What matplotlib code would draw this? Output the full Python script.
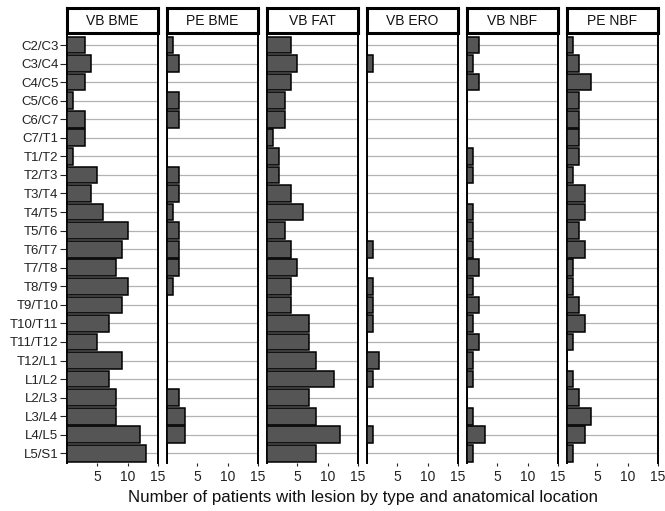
import numpy as np
import matplotlib.pyplot as plt

plt.rcParams['font.family'] = ['Liberation Sans', 'DejaVu Sans']

levels = ["C2/C3", "C3/C4", "C4/C5", "C5/C6", "C6/C7", "C7/T1", "T1/T2", "T2/T3",
          "T3/T4", "T4/T5", "T5/T6", "T6/T7", "T7/T8", "T8/T9", "T9/T10", "T10/T11",
          "T11/T12", "T12/L1", "L1/L2", "L2/L3", "L3/L4", "L4/L5", "L5/S1"]

panels = ["VB BME", "PE BME", "VB FAT", "VB ERO", "VB NBF", "PE NBF"]

vb_bme = [3, 4, 3, 1, 3, 3, 1, 5, 4, 6, 10, 9, 8, 10, 9, 7, 5, 9, 7, 8, 8, 12, 13]
pe_bme = [1, 2, 0, 2, 2, 0, 0, 2, 2, 1, 2, 2, 2, 1, 0, 0, 0, 0, 0, 2, 3, 3, 0]
vb_fat = [4, 5, 4, 3, 3, 1, 2, 2, 4, 6, 3, 4, 5, 4, 4, 7, 7, 8, 11, 7, 8, 12, 8]
vb_ero = [0, 1, 0, 0, 0, 0, 0, 0, 0, 0, 0, 1, 0, 1, 1, 1, 0, 2, 1, 0, 0, 1, 0]
vb_nbf = [2, 1, 2, 0, 0, 0, 1, 1, 0, 1, 1, 1, 2, 1, 2, 1, 2, 1, 1, 0, 1, 3, 1]
pe_nbf = [1, 2, 4, 2, 2, 2, 2, 1, 3, 3, 2, 3, 1, 1, 2, 3, 1, 0, 1, 2, 4, 3, 1]

series = [vb_bme, pe_bme, vb_fat, vb_ero, vb_nbf, pe_nbf]
xticks = [5, 10, 15]

W, H = 665, 511
fig = plt.figure(figsize=(W / 100, H / 100), dpi=100)

left0 = 67.3
pw = 90.4
pitch = 100
top = 33.5
bottom = 463
strip_top = 8

y = np.arange(len(levels))

for i, (name, vals) in enumerate(zip(panels, series)):
    x0 = left0 + i * pitch
    ax = fig.add_axes([x0 / W, (H - bottom) / H, pw / W, (bottom - top) / H])
    ax.barh(y, vals, height=0.9, color='#555555', edgecolor='black', linewidth=1.1, zorder=3)
    ax.set_xlim(0, 15)
    ax.set_ylim(len(levels) - 1 + 0.52, -0.62)
    ax.set_yticks(y)
    ax.set_xticks(xticks)
    ax.grid(axis='y', color='#b3b3b3', linewidth=0.9, zorder=0)
    ax.grid(axis='x', visible=False)
    ax.set_axisbelow(True)
    for s in ['top', 'bottom']:
        ax.spines[s].set_visible(False)
    for s in ['left', 'right']:
        ax.spines[s].set_linewidth(1.4)
        ax.spines[s].set_color('black')
    ax.tick_params(axis='x', length=2, width=0.8, pad=3, labelsize=10, colors='#222222')
    if i == 0:
        ax.set_yticklabels(levels)
        ax.tick_params(axis='y', length=5, width=0.8, pad=1.5, labelsize=9.5, colors='#222222')
    else:
        ax.set_yticklabels([])
        ax.tick_params(axis='y', length=0)

    # strip header
    sax = fig.add_axes([x0 / W, (H - top) / H, pw / W, (top - strip_top) / H])
    sax.set_xticks([])
    sax.set_yticks([])
    for s in sax.spines.values():
        s.set_linewidth(2.2)
        s.set_color('black')
    sax.text(0.5, 0.5, name, ha='center', va='center', fontsize=10, color='#111111',
             transform=sax.transAxes)

fig.text((left0 + (5 * pitch + pw) / 2) / W, 1 - 497 / H,
         "Number of patients with lesion by type and anatomical location",
         ha='center', va='center', fontsize=12.2, color='#111111')

fig.savefig("out.png", dpi=100)
